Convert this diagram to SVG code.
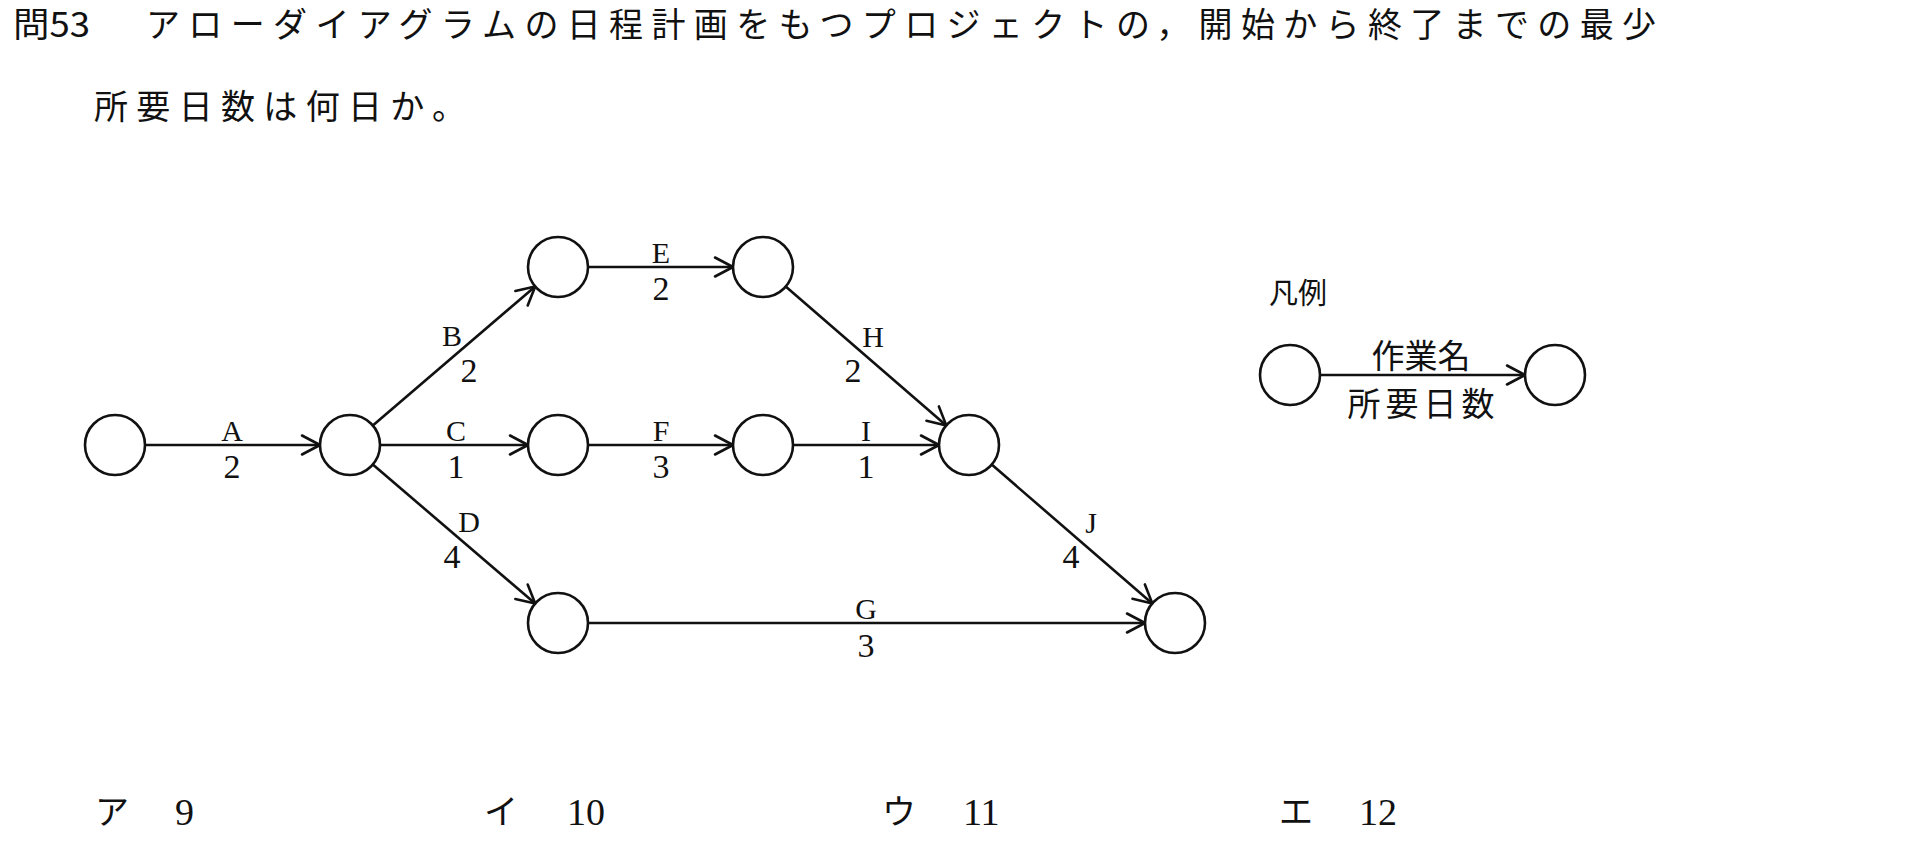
<svg xmlns="http://www.w3.org/2000/svg" width="1930" height="856" viewBox="0 0 1930 856">
<style>
  .node { fill: #fff; stroke: #111; stroke-width: 2.6; }
  .edge { fill: none; stroke: #111; stroke-width: 2.6; marker-end: url(#arr); }
  .lt { font-family: "Liberation Serif", serif; font-size: 30px; fill: #111; text-anchor: middle; }
  .dg { font-family: "Liberation Serif", serif; font-size: 34px; fill: #111; text-anchor: middle; }
  .jp { font-family: "Noto Sans CJK JP", "Noto Sans", sans-serif; fill: #111; }
  .num { font-family: "Liberation Serif", serif; font-size: 38px; fill: #111; }
</style>
<defs>
  <marker id="arr" markerUnits="userSpaceOnUse" markerWidth="30" markerHeight="30" viewBox="-24 -15 30 30" refX="0" refY="0" orient="auto" overflow="visible">
    <path d="M-18,-9.5 L0,0 L-18,9.5" fill="none" stroke="#111" stroke-width="2.6" stroke-linecap="round" stroke-linejoin="round"/>
  </marker>
</defs>
<rect width="1930" height="856" fill="#fff"/>

<g id="question">
  <text class="jp" x="13" y="37" font-size="34" textLength="77" lengthAdjust="spacingAndGlyphs">問53</text>
  <text class="jp" x="146" y="37" font-size="34" textLength="1510" lengthAdjust="spacing">アローダイアグラムの日程計画をもつプロジェクトの，開始から終了までの最少</text>
  <text class="jp" x="94" y="119" font-size="34" textLength="372" lengthAdjust="spacing">所要日数は何日か。</text>
</g>

<g id="connectors">
  <line class="edge" x1="145" y1="445" x2="320" y2="445"/>
  <line class="edge" x1="372.8" y1="425.5" x2="535.2" y2="286.5"/>
  <line class="edge" x1="380" y1="445" x2="528" y2="445"/>
  <line class="edge" x1="372.8" y1="464.5" x2="535.2" y2="603.5"/>
  <line class="edge" x1="588" y1="267" x2="733" y2="267"/>
  <line class="edge" x1="588" y1="445" x2="733" y2="445"/>
  <line class="edge" x1="588" y1="623" x2="1145" y2="623"/>
  <line class="edge" x1="785.7" y1="286.6" x2="946.3" y2="425.4"/>
  <line class="edge" x1="793" y1="445" x2="939" y2="445"/>
  <line class="edge" x1="991.7" y1="464.6" x2="1152.3" y2="603.4"/>
  <line class="edge" x1="1320" y1="375" x2="1525" y2="375"/>
</g>

<g id="edge-labels">
  <text class="lt" x="232" y="441">A</text><text class="dg" x="232" y="478">2</text>
  <text class="lt" x="452" y="346">B</text><text class="dg" x="469" y="382">2</text>
  <text class="lt" x="456" y="441">C</text><text class="dg" x="456" y="478">1</text>
  <text class="lt" x="469" y="532">D</text><text class="dg" x="452" y="568">4</text>
  <text class="lt" x="661" y="263">E</text><text class="dg" x="661" y="300">2</text>
  <text class="lt" x="661" y="441">F</text><text class="dg" x="661" y="478">3</text>
  <text class="lt" x="866" y="619">G</text><text class="dg" x="866" y="657">3</text>
  <text class="lt" x="873" y="347">H</text><text class="dg" x="853" y="382">2</text>
  <text class="lt" x="866" y="441">I</text><text class="dg" x="866" y="478">1</text>
  <text class="lt" x="1091" y="533">J</text><text class="dg" x="1071" y="568">4</text>
</g>

<g id="n1"><circle class="node" cx="115" cy="445" r="30"/></g>
<g id="n2"><circle class="node" cx="350" cy="445" r="30"/></g>
<g id="n3"><circle class="node" cx="558" cy="267" r="30"/></g>
<g id="n4"><circle class="node" cx="763" cy="267" r="30"/></g>
<g id="n5"><circle class="node" cx="558" cy="445" r="30"/></g>
<g id="n6"><circle class="node" cx="763" cy="445" r="30"/></g>
<g id="n7"><circle class="node" cx="969" cy="445" r="30"/></g>
<g id="n8"><circle class="node" cx="558" cy="623" r="30"/></g>
<g id="n9"><circle class="node" cx="1175" cy="623" r="30"/></g>

<g id="legend">
  <text class="jp" x="1269" y="304" font-size="29">凡例</text>
  <g id="legend-from"><circle class="node" cx="1290" cy="375" r="30"/></g>
  <g id="legend-to"><circle class="node" cx="1555" cy="375" r="30"/></g>
  <text class="jp" x="1421" y="368" font-size="33" text-anchor="middle">作業名</text>
  <text class="jp" x="1421" y="416" font-size="33" text-anchor="middle" textLength="147" lengthAdjust="spacing">所要日数</text>
</g>

<g id="choices">
  <text class="jp" x="95" y="824" font-size="34">ア</text><text class="num" x="175" y="825">9</text>
  <text class="jp" x="484" y="824" font-size="34">イ</text><text class="num" x="567" y="825">10</text>
  <text class="jp" x="882" y="824" font-size="34">ウ</text><text class="num" x="963" y="825">11</text>
  <text class="jp" x="1279" y="824" font-size="34">エ</text><text class="num" x="1359" y="825">12</text>
</g>
</svg>
